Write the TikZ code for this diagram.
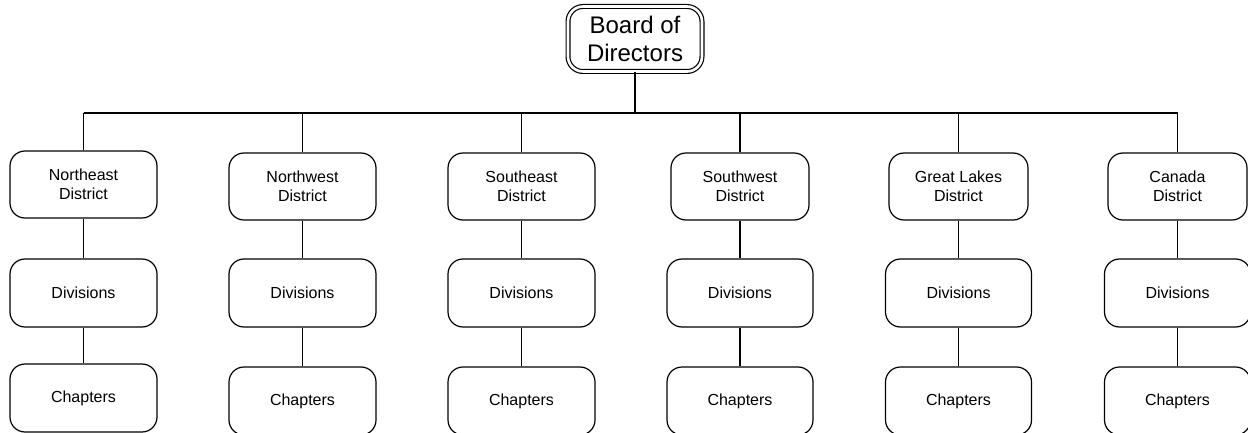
\documentclass[tikz,border=0pt]{standalone}
\usepackage{fontspec}
\setmainfont{Liberation Sans}
\begin{document}
\begin{tikzpicture}[x=1pt,y=-1pt,line width=1.2pt,
  orgbox/.style={draw,rounded corners=15pt,inner sep=0pt,align=center,
    font=\fontsize{16}{18.5}\selectfont,minimum height=67pt},
  topbox/.style={draw,rounded corners=15pt,inner sep=0pt,align=center,
    font=\fontsize{24}{28.5}\selectfont,double,double distance=2.6pt,
    minimum width=134pt,minimum height=65pt}]
\useasboundingbox (0,0) rectangle (1248,433);
\node[topbox] (board) at (635,39) {Board of\\Directors};
\coordinate (bus) at (0,113);
% districts
\node[orgbox,minimum width=147pt] (d1) at (83.5,184.5) {Northeast\\District};
\node[orgbox,minimum width=147pt] (d2) at (302.5,186.5) {Northwest\\District};
\node[orgbox,minimum width=147pt] (d3) at (521.5,186.5) {Southeast\\District};
\node[orgbox,minimum width=138pt] (d4) at (740,186.5) {Southwest\\District};
\node[orgbox,minimum width=139pt] (d5) at (958.5,186.5) {Great Lakes\\District};
\node[orgbox,minimum width=139pt] (d6) at (1177.5,186.5) {Canada\\District};
% divisions
\node[orgbox,minimum width=147pt,minimum height=68pt] (v1) at (83.5,293) {Divisions};
\node[orgbox,minimum width=147pt,minimum height=68pt] (v2) at (302.5,293) {Divisions};
\node[orgbox,minimum width=147pt,minimum height=68pt] (v3) at (521.5,293) {Divisions};
\node[orgbox,minimum width=146pt,minimum height=68pt] (v4) at (740,293) {Divisions};
\node[orgbox,minimum width=146pt,minimum height=68pt] (v5) at (958.5,293) {Divisions};
\node[orgbox,minimum width=146pt,minimum height=68pt] (v6) at (1177.5,293) {Divisions};
% chapters
\node[orgbox,minimum width=147pt,minimum height=68pt] (c1) at (83.5,398) {Chapters};
\node[orgbox,minimum width=147pt,minimum height=68pt] (c2) at (302.5,401) {Chapters};
\node[orgbox,minimum width=147pt,minimum height=68pt] (c3) at (521.5,401) {Chapters};
\node[orgbox,minimum width=146pt,minimum height=68pt] (c4) at (740,401) {Chapters};
\node[orgbox,minimum width=146pt,minimum height=68pt] (c5) at (958.5,401) {Chapters};
\node[orgbox,minimum width=146pt,minimum height=68pt] (c6) at (1177.5,401) {Chapters};
% connectors
\draw (board.south) -- (board.south |- bus);
\draw (d1.north |- bus) -- (d6.north |- bus);
\foreach \i in {1,...,6}{
  \draw (d\i.north |- bus) -- (d\i.north);
  \draw (d\i.south) -- (v\i.north);
  \draw (v\i.south) -- (c\i.north);
}
\end{tikzpicture}
\end{document}
